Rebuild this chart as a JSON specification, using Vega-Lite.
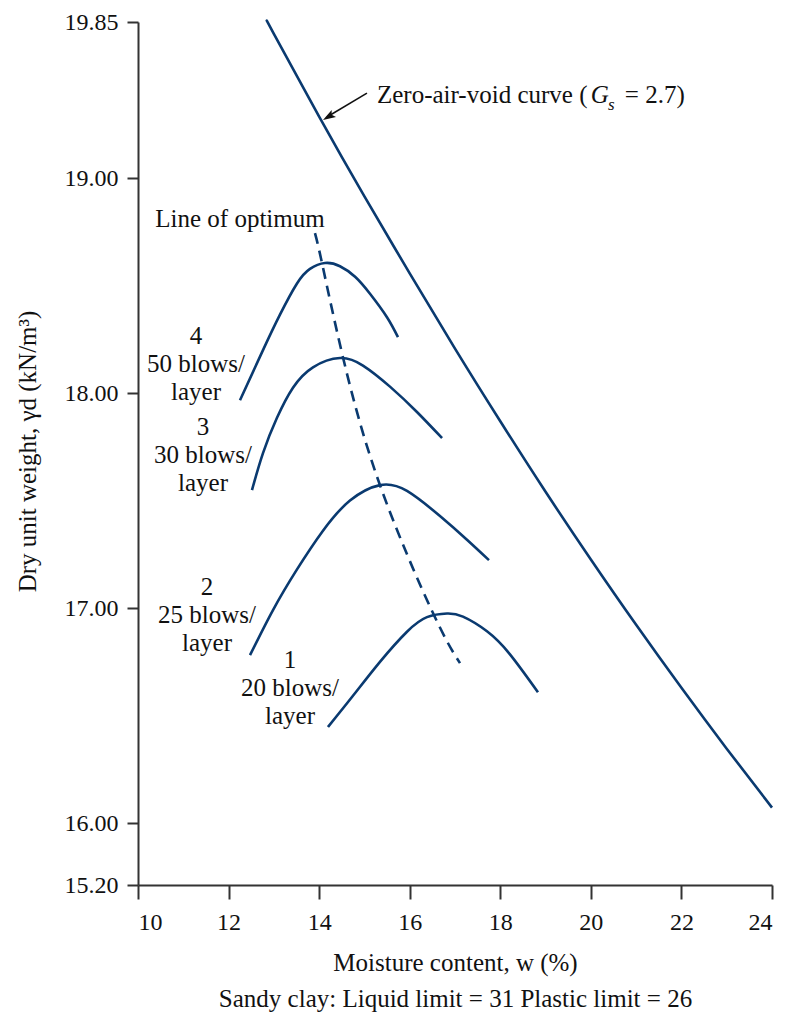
{
  "$schema": "https://vega.github.io/schema/vega-lite/v6.json",
  "autosize": {"type": "none"},
  "padding": {"left": 138, "top": 22, "right": 15, "bottom": 127},
  "width": 634,
  "height": 863,
  "background": "white",
  "config": {
    "view": {"stroke": null},
    "text": {"font": "Liberation Serif", "fontSize": 25, "color": "#111"},
    "axis": {
      "labelFont": "Liberation Serif",
      "titleFont": "Liberation Serif",
      "labelColor": "#111",
      "titleColor": "#111",
      "domainColor": "#333",
      "tickColor": "#333",
      "domainWidth": 2,
      "tickWidth": 2,
      "grid": false,
      "titleFontWeight": "normal"
    }
  },
  "datasets": {
    "zav": [
      {"x": 12.87, "y": 19.722}, {"x": 13, "y": 19.671}, {"x": 14, "y": 19.286},
      {"x": 15, "y": 18.915}, {"x": 16, "y": 18.557}, {"x": 17, "y": 18.207},
      {"x": 18, "y": 17.869}, {"x": 19, "y": 17.541}, {"x": 20, "y": 17.226},
      {"x": 21, "y": 16.922}, {"x": 22, "y": 16.629}, {"x": 23, "y": 16.346},
      {"x": 24, "y": 16.072}
    ],
    "curves": [
      {"curve": "4", "x": 12.252, "y": 17.967}, {"curve": "4", "x": 12.760, "y": 18.200},
      {"curve": "4", "x": 13.135, "y": 18.365}, {"curve": "4", "x": 13.511, "y": 18.510},
      {"curve": "4", "x": 13.798, "y": 18.578}, {"curve": "4", "x": 14.129, "y": 18.605},
      {"curve": "4", "x": 14.460, "y": 18.590}, {"curve": "4", "x": 14.800, "y": 18.540},
      {"curve": "4", "x": 15.123, "y": 18.462}, {"curve": "4", "x": 15.498, "y": 18.353},
      {"curve": "4", "x": 15.741, "y": 18.260},
      {"curve": "3", "x": 12.517, "y": 17.549}, {"curve": "3", "x": 12.760, "y": 17.721},
      {"curve": "3", "x": 13.069, "y": 17.885}, {"curve": "3", "x": 13.422, "y": 18.025},
      {"curve": "3", "x": 13.864, "y": 18.120}, {"curve": "3", "x": 14.460, "y": 18.163},
      {"curve": "3", "x": 14.968, "y": 18.128}, {"curve": "3", "x": 15.564, "y": 18.030},
      {"curve": "3", "x": 16.160, "y": 17.912}, {"curve": "3", "x": 16.712, "y": 17.791},
      {"curve": "2", "x": 12.473, "y": 16.781}, {"curve": "2", "x": 12.981, "y": 16.991},
      {"curve": "2", "x": 13.511, "y": 17.180}, {"curve": "2", "x": 14.085, "y": 17.360},
      {"curve": "2", "x": 14.681, "y": 17.500}, {"curve": "2", "x": 15.343, "y": 17.572},
      {"curve": "2", "x": 15.940, "y": 17.545}, {"curve": "2", "x": 16.668, "y": 17.428},
      {"curve": "2", "x": 17.264, "y": 17.318}, {"curve": "2", "x": 17.750, "y": 17.223},
      {"curve": "1", "x": 14.195, "y": 16.447}, {"curve": "1", "x": 14.747, "y": 16.592},
      {"curve": "1", "x": 15.343, "y": 16.750}, {"curve": "1", "x": 15.940, "y": 16.890},
      {"curve": "1", "x": 16.381, "y": 16.958}, {"curve": "1", "x": 16.823, "y": 16.975},
      {"curve": "1", "x": 17.176, "y": 16.960}, {"curve": "1", "x": 17.706, "y": 16.892},
      {"curve": "1", "x": 18.214, "y": 16.785}, {"curve": "1", "x": 18.832, "y": 16.609}
    ],
    "optimum": [
      {"x": 13.908, "y": 18.744}, {"x": 14.063, "y": 18.605}, {"x": 14.526, "y": 18.167},
      {"x": 15.343, "y": 17.572}, {"x": 16.514, "y": 16.977}, {"x": 17.110, "y": 16.744}
    ],
    "centerLabels": [
      {"x": 11.281, "y": 18.228, "t": "4\n50 blows/\nlayer"},
      {"x": 11.435, "y": 17.805, "t": "3\n30 blows/\nlayer"},
      {"x": 11.524, "y": 17.060, "t": "2\n25 blows/\nlayer"},
      {"x": 13.356, "y": 16.721, "t": "1\n20 blows/\nlayer"},
      {"x": 12.252, "y": 18.772, "t": "Line of optimum"}
    ],
    "zavLabel": [
      {"x": 15.277, "y": 19.349, "t": "Zero-air-void curve ("},
      {"x": 20.75, "y": 19.349, "t": "= 2.7)"}
    ],
    "zavItalic": [{"x": 20.0, "y": 19.349, "t": "G"}],
    "zavSub": [{"x": 20.38, "y": 19.318, "t": "s"}],
    "arrow": [{"x": 15.056, "y": 19.395, "x2": 14.173, "y2": 19.284}],
    "arrowHead": [{"x": 14.226, "y": 19.288}]
  },
  "encoding": {
    "x": {
      "field": "x", "type": "quantitative",
      "scale": {"domain": [10, 24], "nice": false, "zero": false},
      "axis": {
        "values": [10, 12, 14, 16, 18, 20, 22, 24],
        "labelFont": "Liberation Serif",
        "labelFontSize": 24,
        "tickSize": 14,
        "labelPadding": 11,
        "title": ["Moisture content, w (%)", "Sandy clay: Liquid limit = 31 Plastic limit = 26"],
        "titleFont": "Liberation Serif",
        "titleFontSize": 25,
        "titleY": 85,
        "titleBaseline": "alphabetic",
        "titleLineHeight": 36
      }
    },
    "y": {
      "field": "y", "type": "quantitative",
      "scale": {"domain": [15.712, 19.726], "nice": false, "zero": false},
      "axis": {
        "values": [15.712, 16, 17, 18, 19, 19.726],
        "labelExpr": "datum.value < 15.8 ? '15.20' : (datum.value > 19.7 ? '19.85' : format(datum.value, '.2f'))",
        "labelFont": "Liberation Serif",
        "labelFontSize": 24,
        "tickSize": 11,
        "labelPadding": 9,
        "title": "Dry unit weight, γd (kN/m³)",
        "titleFont": "Liberation Serif",
        "titleFontSize": 25,
        "titleAngle": 270,
        "titleX": -103,
        "titleY": 429,
        "titleAlign": "center",
        "titleBaseline": "alphabetic"
      }
    }
  },
  "layer": [
    {
      "data": {"name": "zav"},
      "mark": {"type": "line", "color": "#0a3a70", "strokeWidth": 2.6, "interpolate": "natural"}
    },
    {
      "data": {"name": "curves"},
      "mark": {"type": "line", "color": "#0a3a70", "strokeWidth": 2.6, "interpolate": "natural"},
      "encoding": {"detail": {"field": "curve", "type": "nominal"}}
    },
    {
      "data": {"name": "optimum"},
      "mark": {"type": "line", "color": "#0a3a70", "strokeWidth": 2.6, "interpolate": "natural", "strokeDash": [11, 7]}
    },
    {
      "data": {"name": "arrow"},
      "mark": {"type": "rule", "color": "#111", "strokeWidth": 1.6},
      "encoding": {"x2": {"field": "x2"}, "y2": {"field": "y2"}}
    },
    {
      "data": {"name": "arrowHead"},
      "mark": {"type": "point", "shape": "M0,-1L0.55,0.7L0,0.35L-0.55,0.7Z", "size": 225, "angle": 238.5, "filled": true, "color": "#111", "opacity": 1, "strokeWidth": 0}
    },
    {
      "data": {"name": "centerLabels"},
      "mark": {"type": "text", "font": "Liberation Serif", "align": "center", "baseline": "alphabetic", "lineBreak": "\n", "lineHeight": 28, "fontSize": 25},
      "encoding": {"text": {"field": "t"}}
    },
    {
      "data": {"name": "zavLabel"},
      "mark": {"type": "text", "font": "Liberation Serif", "align": "left", "baseline": "alphabetic", "fontSize": 25},
      "encoding": {"text": {"field": "t"}}
    },
    {
      "data": {"name": "zavItalic"},
      "mark": {"type": "text", "font": "Liberation Serif", "align": "left", "baseline": "alphabetic", "fontSize": 25, "fontStyle": "italic"},
      "encoding": {"text": {"field": "t"}}
    },
    {
      "data": {"name": "zavSub"},
      "mark": {"type": "text", "font": "Liberation Serif", "align": "left", "baseline": "alphabetic", "fontSize": 17, "fontStyle": "italic"},
      "encoding": {"text": {"field": "t"}}
    }
  ]
}
